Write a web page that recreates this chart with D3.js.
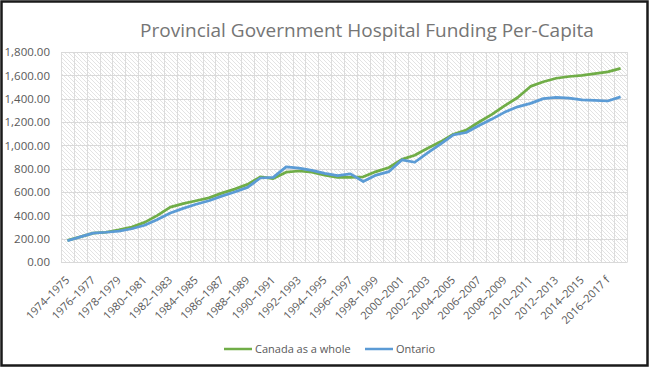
<!DOCTYPE html>
<html>
<head>
<meta charset="utf-8">
<script src="https://cdn.jsdelivr.net/npm/d3@7"></script>
<style>
body { margin: 0; background: #fff; }
svg text { font-family: "Open Sans", "Noto Sans", sans-serif; }
</style>
</head>
<body>
<div id="chart"></div>
<script>
// fiscal years (last two are forecasts)
var years = ["1974–1975","1975–1976","1976–1977","1977–1978","1978–1979","1979–1980","1980–1981","1981–1982",
  "1982–1983","1983–1984","1984–1985","1985–1986","1986–1987","1987–1988","1988–1989","1989–1990",
  "1990–1991","1991–1992","1992–1993","1993–1994","1994–1995","1995–1996","1996–1997","1997–1998",
  "1998–1999","1999–2000","2000–2001","2001–2002","2002–2003","2003–2004","2004–2005","2005–2006",
  "2006–2007","2007–2008","2008–2009","2009–2010","2010–2011","2011–2012","2012–2013","2013–2014",
  "2014–2015","2015–2016","2016–2017 f","2017–2018 f"];

var canada = [185,215,248,255,275,300,340,400,470,500,525,550,590,625,665,730,
  715,770,780,770,745,725,725,730,775,810,880,915,975,1030,1095,1130,
  1200,1265,1340,1410,1505,1545,1575,1590,1600,1615,1630,1660];

var ontario = [182,215,248,255,265,285,315,365,420,460,495,525,565,600,640,720,
  725,815,805,785,760,740,755,690,745,775,875,855,935,1010,1090,1110,
  1170,1225,1285,1330,1360,1400,1412,1405,1390,1385,1380,1415];

var yTicks = [0,200,400,600,800,1000,1200,1400,1600,1800];

var W = 652, H = 369;
var pLeft = 61, pRight = 627, pTop = 52, pBottom = 262;

var svg = d3.select("#chart").append("svg")
  .attr("width", W).attr("height", H);

// hatch fill for plot area
var defs = svg.append("defs");
var pat = defs.append("pattern")
  .attr("id", "hatch")
  .attr("patternUnits", "userSpaceOnUse")
  .attr("width", 4).attr("height", 4);
pat.append("path")
  .attr("d", "M-1,-1 L5,5 M-1,3 L1,5 M3,-1 L5,1")
  .attr("stroke", "#e3e3e3")
  .attr("stroke-width", 1);

svg.append("rect")
  .attr("x", 1.5).attr("y", 1.5)
  .attr("width", 646).attr("height", 364)
  .attr("fill", "#fff")
  .attr("stroke", "#1a1a1a")
  .attr("stroke-width", 2.5);

var x = d3.scaleBand().domain(years).range([pLeft, pRight]);
var y = d3.scaleLinear().domain([0, 1800]).range([pBottom, pTop]);

svg.append("rect")
  .attr("x", pLeft).attr("y", pTop)
  .attr("width", pRight - pLeft).attr("height", pBottom - pTop)
  .attr("fill", "url(#hatch)");

// vertical grid lines at category borders
var bounds = years.map(function(d) { return x(d); }).concat([pRight]);
svg.append("g").selectAll("line")
  .data(bounds)
  .enter().append("line")
  .attr("x1", function(d) { return Math.round(d) + 0.5; })
  .attr("x2", function(d) { return Math.round(d) + 0.5; })
  .attr("y1", pTop).attr("y2", pBottom)
  .attr("stroke", "#dcdcdc");

// horizontal grid lines
svg.append("g").selectAll("line")
  .data(yTicks)
  .enter().append("line")
  .attr("x1", pLeft).attr("x2", pRight)
  .attr("y1", function(d) { return Math.round(y(d)) + 0.5; })
  .attr("y2", function(d) { return Math.round(y(d)) + 0.5; })
  .attr("stroke", "#d9d9d9");

// y axis labels
var yAxis = d3.axisLeft(y).tickValues(yTicks)
  .tickFormat(d3.format(",.2f")).tickSize(0).tickPadding(11);
var gy = svg.append("g").attr("transform", "translate(" + pLeft + ",0)").call(yAxis);
gy.select(".domain").remove();
gy.selectAll("text").attr("fill", "#595959").style("font-size", "11.5px");

// x axis labels, every other year
var xAxis = d3.axisBottom(x)
  .tickValues(years.filter(function(d, i) { return i % 2 == 0; }))
  .tickSize(0);
var gx = svg.append("g").attr("transform", "translate(0," + pBottom + ")").call(xAxis);
gx.select(".domain").attr("stroke", "#d9d9d9");
gx.selectAll("text")
  .attr("fill", "#595959")
  .style("font-size", "11px")
  .style("text-anchor", "end")
  .attr("y", 0)
  .attr("dy", "0.35em")
  .attr("transform", "translate(0,16) rotate(-45)");

// lines
var line = d3.line()
  .x(function(d, i) { return x(years[i]) + x.bandwidth() / 2; })
  .y(function(d) { return y(d); });

svg.append("path").datum(canada)
  .attr("d", line)
  .attr("fill", "none")
  .attr("stroke", "#70ad47")
  .attr("stroke-width", 2.75)
  .attr("stroke-linejoin", "round");

svg.append("path").datum(ontario)
  .attr("d", line)
  .attr("fill", "none")
  .attr("stroke", "#5b9bd5")
  .attr("stroke-width", 2.75)
  .attr("stroke-linejoin", "round");

// title
svg.append("text")
  .attr("x", 367).attr("y", 37)
  .attr("text-anchor", "middle")
  .attr("fill", "#757575")
  .style("font-size", "19px")
  .text("Provincial Government Hospital Funding Per-Capita");

// legend
var legend = [
  { name: "Canada as a whole", color: "#70ad47", x: 224 },
  { name: "Ontario", color: "#5b9bd5", x: 365 }
];
var lg = svg.append("g").selectAll("g")
  .data(legend)
  .enter().append("g")
  .attr("transform", function(d) { return "translate(" + d.x + ",349)"; });
lg.append("line")
  .attr("x1", 0).attr("x2", 28)
  .attr("stroke", function(d) { return d.color; })
  .attr("stroke-width", 2.5);
lg.append("text")
  .attr("x", 31).attr("dy", "0.35em")
  .attr("fill", "#595959")
  .style("font-size", "11px")
  .text(function(d) { return d.name; });
</script>
</body>
</html>
